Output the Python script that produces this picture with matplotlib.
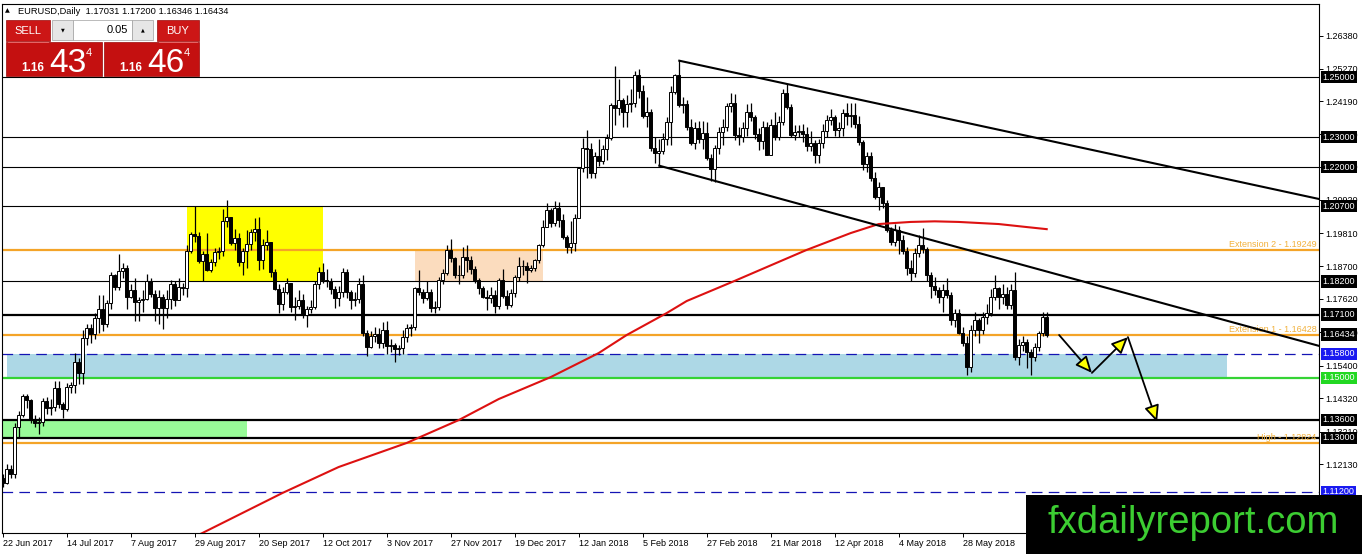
import numpy as np
import matplotlib
matplotlib.use("Agg")
import matplotlib.pyplot as plt
import matplotlib.transforms as mtransforms
from matplotlib.patches import Rectangle, FancyArrowPatch

plt.rcParams['font.family'] = ['Liberation Sans', 'DejaVu Sans']

# EURUSD daily candles, 22 Jun 2017 .. 26 Jun 2018 (one entry per trading day)
first_open = 1.1166
closes = [
    1.1150, 1.1195, 1.1180, 1.1337, 1.1377, 1.1440, 1.1425, 1.1360, 1.1348, 1.1353,
    1.1422, 1.1400, 1.1402, 1.1465, 1.1412, 1.1397, 1.1470, 1.1477, 1.1553, 1.1515,
    1.1632, 1.1664, 1.1645, 1.1700, 1.1730, 1.1677, 1.1748, 1.1842, 1.1800, 1.1855,
    1.1866, 1.1770, 1.1793, 1.1752, 1.1757, 1.1763, 1.1820, 1.1777, 1.1733, 1.1767,
    1.1733, 1.1762, 1.1810, 1.1760, 1.1800, 1.1797, 1.1922, 1.1978, 1.1970, 1.1888,
    1.1910, 1.1858, 1.1885, 1.1918, 1.1920, 1.2020, 1.2035, 1.1947, 1.1965, 1.1885,
    1.1920, 1.1945, 1.1985, 1.1996, 1.1890, 1.1940, 1.1950, 1.1850, 1.1795, 1.1745,
    1.1785, 1.1815, 1.1735, 1.1740, 1.1760, 1.1710, 1.1730, 1.1736, 1.1810, 1.1853,
    1.1825, 1.1820, 1.1795, 1.1765, 1.1785, 1.1850, 1.1785, 1.1758, 1.1762, 1.1812,
    1.1650, 1.1603, 1.1640, 1.1645, 1.1615, 1.1660, 1.1605, 1.1610, 1.1595, 1.1598,
    1.1637, 1.1665, 1.1667, 1.1797, 1.1786, 1.1765, 1.1786, 1.1731, 1.1735, 1.1825,
    1.1847, 1.1925, 1.1897, 1.1842, 1.1840, 1.1903, 1.1892, 1.1860, 1.1825, 1.1797,
    1.1770, 1.1765, 1.1775, 1.1737, 1.1825, 1.1772, 1.1742, 1.1781, 1.1836, 1.1870,
    1.1872, 1.1858, 1.1866, 1.1890, 1.1942, 1.2002, 1.2058, 1.2013, 1.2064, 1.2025,
    1.1969, 1.1936, 1.1947, 1.2030, 1.2196, 1.2263, 1.2262, 1.2180, 1.2237, 1.2222,
    1.2260, 1.2297, 1.2407, 1.2397, 1.2425, 1.2385, 1.2410, 1.2415, 1.2507, 1.2452,
    1.2370, 1.2382, 1.2263, 1.2248, 1.2255, 1.2295, 1.2350, 1.2451, 1.2507, 1.2407,
    1.2410, 1.2335, 1.2280, 1.2330, 1.2295, 1.2315, 1.2230, 1.2195, 1.2265, 1.2318,
    1.2333, 1.2402, 1.2413, 1.2307, 1.2302, 1.2330, 1.2385, 1.2368, 1.2310, 1.2288,
    1.2335, 1.2240, 1.2340, 1.2302, 1.2352, 1.2446, 1.2401, 1.2307, 1.2318, 1.2322,
    1.2312, 1.2270, 1.2280, 1.2240, 1.2280, 1.2322, 1.2357, 1.2368, 1.2325, 1.2330,
    1.2380, 1.2369, 1.2374, 1.2345, 1.2285, 1.2210, 1.2237, 1.2163, 1.2102, 1.2135,
    1.2080, 1.1990, 1.1952, 1.1990, 1.1958, 1.1922, 1.1865, 1.1848, 1.1915, 1.1940,
    1.1927, 1.1842, 1.1805, 1.1792, 1.1770, 1.1792, 1.1776, 1.1692, 1.1715, 1.1647,
    1.1614, 1.1537, 1.1659, 1.1692, 1.1659, 1.1703, 1.1714, 1.1769, 1.1797, 1.1769,
    1.1780, 1.1742, 1.1792, 1.1570, 1.1608, 1.1620, 1.1587, 1.1570, 1.1603, 1.1648,
    1.17031, 1.16434,
]
highs = [
    1.1180, 1.1212, 1.1210, 1.1350, 1.1390, 1.1446, 1.1447, 1.1430, 1.1375, 1.1370,
    1.1432, 1.1435, 1.1428, 1.1488, 1.1490, 1.1420, 1.1483, 1.1485, 1.1583, 1.1565,
    1.1660, 1.1680, 1.1680, 1.1715, 1.1775, 1.1775, 1.1760, 1.1850, 1.1845, 1.1910,
    1.1880, 1.1875, 1.1810, 1.1830, 1.1770, 1.1790, 1.1845, 1.1830, 1.1790, 1.1790,
    1.1780, 1.1790, 1.1825, 1.1820, 1.1830, 1.1815, 1.1940, 1.1985, 1.2070, 1.1985,
    1.1920, 1.1980, 1.1895, 1.1930, 1.1935, 1.2060, 1.2092, 1.2035, 1.1995, 1.1980,
    1.1930, 1.1990, 1.1995, 1.2030, 1.2035, 1.1960, 1.1990, 1.1950, 1.1860, 1.1810,
    1.1800, 1.1830, 1.1815, 1.1770, 1.1790, 1.1780, 1.1740, 1.1760, 1.1820, 1.1869,
    1.1880, 1.1860, 1.1830, 1.1805, 1.1805, 1.1865, 1.1860, 1.1790, 1.1785, 1.1830,
    1.1840, 1.1660, 1.1655, 1.1670, 1.1665, 1.1686, 1.1690, 1.1630, 1.1615, 1.1610,
    1.1660, 1.1680, 1.1680, 1.1800, 1.1858, 1.1795, 1.1820, 1.1795, 1.1755, 1.1835,
    1.1860, 1.1940, 1.1960, 1.1900, 1.1875, 1.1935, 1.1940, 1.1905, 1.1870, 1.1830,
    1.1805, 1.1790, 1.1800, 1.1790, 1.1830, 1.1860, 1.1790, 1.1795, 1.1840, 1.1900,
    1.1890, 1.1885, 1.1875, 1.1895, 1.1945, 1.2024, 1.2080, 1.2065, 1.2088, 1.2085,
    1.2045, 1.1975, 1.2020, 1.2045, 1.2200, 1.2297, 1.2323, 1.2280, 1.2250, 1.2295,
    1.2275, 1.2310, 1.2415, 1.2537, 1.2495, 1.2430, 1.2440, 1.2460, 1.2520, 1.2525,
    1.2475, 1.2435, 1.2395, 1.2300, 1.2295, 1.2315, 1.2368, 1.2470, 1.2510, 1.2555,
    1.2435, 1.2425, 1.2360, 1.2350, 1.2355, 1.2355, 1.2350, 1.2245, 1.2275, 1.2335,
    1.2360, 1.2415, 1.2446, 1.2445, 1.2335, 1.2350, 1.2410, 1.2415, 1.2375, 1.2330,
    1.2355, 1.2350, 1.2360, 1.2385, 1.2370, 1.2460, 1.2476, 1.2410, 1.2340, 1.2340,
    1.2345, 1.2335, 1.2320, 1.2290, 1.2295, 1.2345, 1.2375, 1.2395, 1.2375, 1.2350,
    1.2395, 1.2412, 1.2415, 1.2415, 1.2370, 1.2290, 1.2250, 1.2250, 1.2185, 1.2150,
    1.2135, 1.2090, 1.2000, 1.2010, 1.2005, 1.1975, 1.1935, 1.1890, 1.1930, 1.1975,
    1.1997, 1.1935, 1.1850, 1.1835, 1.1800, 1.1810, 1.1830, 1.1785, 1.1730, 1.1730,
    1.1670, 1.1640, 1.1675, 1.1720, 1.1700, 1.1720, 1.1745, 1.1795, 1.1840, 1.1800,
    1.1810, 1.1800, 1.1810, 1.1852, 1.1630, 1.1640, 1.1630, 1.1595, 1.1615, 1.1655,
    1.1720, 1.17200,
]
lows = [
    1.1137, 1.1145, 1.1165, 1.1165, 1.1300, 1.1370, 1.1400, 1.1350, 1.1335, 1.1312,
    1.1340, 1.1380, 1.1375, 1.1390, 1.1400, 1.1365, 1.1390, 1.1450, 1.1450, 1.1478,
    1.1480, 1.1610, 1.1615, 1.1630, 1.1650, 1.1655, 1.1670, 1.1730, 1.1790, 1.1790,
    1.1830, 1.1730, 1.1765, 1.1690, 1.1690, 1.1720, 1.1760, 1.1770, 1.1690, 1.1680,
    1.1661, 1.1700, 1.1730, 1.1740, 1.1760, 1.1775, 1.1770, 1.1915, 1.1950, 1.1880,
    1.1823, 1.1855, 1.1850, 1.1870, 1.1895, 1.1905, 1.2000, 1.1940, 1.1925, 1.1870,
    1.1840, 1.1865, 1.1925, 1.1955, 1.1858, 1.1860, 1.1925, 1.1835, 1.1790, 1.1714,
    1.1725, 1.1780, 1.1720, 1.1692, 1.1730, 1.1700, 1.1670, 1.1715, 1.1730, 1.1795,
    1.1815, 1.1800, 1.1780, 1.1731, 1.1740, 1.1770, 1.1765, 1.1730, 1.1740, 1.1750,
    1.1640, 1.1572, 1.1600, 1.1620, 1.1600, 1.1600, 1.1580, 1.1585, 1.1552, 1.1575,
    1.1580, 1.1620, 1.1640, 1.1660, 1.1775, 1.1750, 1.1760, 1.1720, 1.1714, 1.1725,
    1.1810, 1.1840, 1.1885, 1.1830, 1.1810, 1.1830, 1.1850, 1.1845, 1.1815, 1.1780,
    1.1765, 1.1725, 1.1750, 1.1716, 1.1730, 1.1765, 1.1730, 1.1735, 1.1770, 1.1820,
    1.1840, 1.1814, 1.1850, 1.1855, 1.1880, 1.1935, 1.2000, 1.2000, 1.2005, 1.2000,
    1.1960, 1.1915, 1.1915, 1.1920, 1.2030, 1.2185, 1.2165, 1.2165, 1.2165, 1.2205,
    1.2210, 1.2225, 1.2290, 1.2340, 1.2375, 1.2335, 1.2335, 1.2385, 1.2400, 1.2430,
    1.2365, 1.2335, 1.2255, 1.2215, 1.2205, 1.2245, 1.2275, 1.2275, 1.2445, 1.2400,
    1.2380, 1.2325, 1.2275, 1.2260, 1.2280, 1.2260, 1.2225, 1.2155, 1.2152, 1.2245,
    1.2275, 1.2320, 1.2385, 1.2290, 1.2275, 1.2285, 1.2305, 1.2355, 1.2295, 1.2257,
    1.2260, 1.2240, 1.2240, 1.2290, 1.2290, 1.2340, 1.2395, 1.2300, 1.2290, 1.2300,
    1.2285, 1.2255, 1.2255, 1.2215, 1.2215, 1.2265, 1.2300, 1.2340, 1.2305, 1.2300,
    1.2305, 1.2340, 1.2335, 1.2330, 1.2275, 1.2190, 1.2185, 1.2155, 1.2095, 1.2058,
    1.2065, 1.1985, 1.1940, 1.1938, 1.1910, 1.1910, 1.1840, 1.1822, 1.1835, 1.1900,
    1.1915, 1.1820, 1.1764, 1.1775, 1.1750, 1.1717, 1.1765, 1.1675, 1.1670, 1.1645,
    1.1605, 1.1510, 1.1520, 1.1640, 1.1614, 1.1645, 1.1680, 1.1705, 1.1760, 1.1730,
    1.1745, 1.1730, 1.1730, 1.1560, 1.1542, 1.1590, 1.1531, 1.1508, 1.1555, 1.1590,
    1.1640, 1.16346,
]

date_labels = ["22 Jun 2017", "14 Jul 2017", "7 Aug 2017", "29 Aug 2017", "20 Sep 2017",
               "12 Oct 2017", "3 Nov 2017", "27 Nov 2017", "19 Dec 2017", "12 Jan 2018",
               "5 Feb 2018", "27 Feb 2018", "21 Mar 2018", "12 Apr 2018", "4 May 2018",
               "28 May 2018"]

# moving average
ma_bars = [47, 50, 70, 84, 101, 114, 124, 137, 149, 156, 166, 171, 183, 194, 201,
           212, 219, 227, 233, 239, 249, 256, 261]
ma_vals = [1.0965, 1.0984, 1.1117, 1.1203, 1.1283, 1.1359, 1.1429, 1.1502, 1.1582,
           1.1642, 1.1715, 1.1755, 1.1822, 1.1885, 1.1925, 1.1981, 1.2011, 1.2018,
           1.2020, 1.2018, 1.2011, 1.2001, 1.1994]

# horizontal levels
thin_levels = [1.25, 1.23, 1.22, 1.207, 1.182]
thick_levels = [1.171, 1.136, 1.13]
fib_levels = [1.19249, 1.16428, 1.12824]
fib_names = ["Extension 2", "Extension 1", "High"]
support_green = 1.15
dashed_levels = [1.158, 1.112]

# zones: (bar start, bar end, price low, price high, colour)
zone_x0 = [1.0, 46.0, 103.0, 0.0]
zone_x1 = [306.0, 80.0, 135.0, 61.0]
zone_lo = [1.150, 1.182, 1.1823, 1.130]
zone_hi = [1.158, 1.207, 1.1925, 1.136]
zone_col = ['#add8e6', '#ffff00', '#fbdcbe', '#98fb98']

# trend lines (two anchors each, extended to the right edge)
trend_a = [(169.15, 1.25542), (164.15, 1.22050)]
trend_b = [(329.08, 1.20943), (329.08, 1.16058)]

# projected path
path_bars = [264.1, 272.3, 281.3, 288.6]
path_vals = [1.1642, 1.1516, 1.1635, 1.1353]

right_ticks = [1.26380, 1.25270, 1.24190, 1.23100, 1.22010, 1.20920, 1.19810,
               1.18700, 1.17620, 1.16510, 1.15400, 1.14320, 1.13210, 1.12130]
boxed = [1.25, 1.23, 1.22, 1.207, 1.182, 1.171, 1.16434, 1.158, 1.15, 1.136, 1.13, 1.112]
boxed_col = ['black'] * 7 + ['#1a1af0', '#22d822', 'black', 'black', '#1a1af0']

ORANGE = '#f4a428'

fig = plt.figure(figsize=(13.62, 5.54), dpi=100)
ax = fig.add_axes([2 / 1362, 21 / 554, 1317 / 1362, 529 / 554])
ax.set_xlim(-0.175, 329.075)
ax.set_ylim(1.098354, 1.274277)

for x0, x1, lo, hi, col in zip(zone_x0, zone_x1, zone_lo, zone_hi, zone_col):
    ax.add_patch(Rectangle((x0, lo), x1 - x0, hi - lo, facecolor=col, edgecolor='none', zorder=0.5))

for lv in thin_levels:
    ax.axhline(lv, color='black', lw=0.8, zorder=1)
for lv in thick_levels:
    ax.axhline(lv, color='black', lw=1.6, zorder=1)
for lv in fib_levels:
    ax.axhline(lv, color=ORANGE, lw=1.6, zorder=1)
ax.axhline(support_green, color='#35d335', lw=1.6, zorder=1)
for lv in dashed_levels:
    ax.axhline(lv, color='#1414b4', lw=0.9, ls=(0, (8.5, 5)), zorder=1)

for name, lv in zip(fib_names, fib_levels):
    ax.text(328.4, lv + 0.0004, f"{name} - {lv:.5f}", color='#f2b13c', fontsize=6.5,
            ha='right', va='bottom', zorder=2)

# candles
c = np.array(closes)
o = np.array([first_open] + closes[:-1])
h = np.array(highs)
l = np.array(lows)
idx = np.arange(len(c))
up = c >= o
ax.vlines(idx, l, h, color='black', lw=0.9, zorder=3)
body = np.maximum(np.abs(c - o), 0.00012)
ax.bar(idx, body, bottom=np.minimum(o, c), width=0.62,
       color=np.where(up, 'white', 'black'), edgecolor='black', linewidth=0.7, zorder=4)

ax.plot(ma_bars, ma_vals, color='#dd1111', lw=1.5, zorder=5)

for (xa, ya), (xb, yb) in zip(trend_a, trend_b):
    ax.plot([xa, xb], [ya, yb], color='black', lw=1.5, zorder=6)

for i in range(len(path_bars) - 1):
    arr = FancyArrowPatch((path_bars[i], path_vals[i]), (path_bars[i + 1], path_vals[i + 1]),
                          arrowstyle='-|>,head_length=10,head_width=4.5', mutation_scale=1,
                          facecolor='#ffff00', edgecolor='black', lw=1.3,
                          shrinkA=0, shrinkB=0, zorder=7)
    ax.add_patch(arr)

# axes styling
for sp in ax.spines.values():
    sp.set_color('black')
    sp.set_linewidth(0.8)
ax.set_xticks(range(0, 16 * len(date_labels), 16))
ax.set_xticklabels(date_labels, fontsize=6.5)
for t in ax.get_xticklabels():
    t.set_ha('left')
ax.tick_params(axis='x', direction='out', length=3, width=0.7, pad=1.5)
ax.yaxis.tick_right()
ax.set_yticks(right_ticks)
ax.set_yticklabels([f"{v:.5f}" for v in right_ticks], fontsize=6.5)
ax.tick_params(axis='y', direction='out', length=3, width=0.7, pad=1.5)

trans = mtransforms.blended_transform_factory(ax.transAxes, ax.transData)
for lv, col in zip(boxed, boxed_col):
    ax.text(1.0027, lv, f"{lv:.5f}", transform=trans, fontsize=6.5, color='white',
            ha='left', va='center', clip_on=False, zorder=10,
            bbox=dict(boxstyle='square,pad=0.18', facecolor=col, edgecolor='none'))

# overlay in pixel coordinates for the trade panel and watermark
ov = fig.add_axes([0, 0, 1, 1])
ov.set_xlim(0, 1362)
ov.set_ylim(554, 0)
ov.axis('off')

ov.text(5, 11, "\u25b2", fontsize=4.5, va='center', ha='left', family=['DejaVu Sans'])
ov.text(18, 11, "EURUSD,Daily  1.17031 1.17200 1.16346 1.16434", fontsize=6.7, va='center', ha='left')

RED = '#cc1616'
for x0, w in [(6, 44), (157, 42)]:
    ov.add_patch(Rectangle((x0, 20), w, 21, facecolor=RED, edgecolor='#9a0a0a', lw=0.5))
for x0, w in [(6, 96), (104, 95)]:
    ov.add_patch(Rectangle((x0, 42), w, 34, facecolor='#c41010', edgecolor='#9a0a0a', lw=0.5))
ov.plot([8, 48], [41.5, 41.5], color='#f07070', lw=0.6)
ov.plot([159, 197], [41.5, 41.5], color='#f07070', lw=0.6)
ov.text(28, 31, "SELL", color='white', fontsize=8, ha='center', va='center')
ov.text(178, 31, "BUY", color='white', fontsize=8, ha='center', va='center')

ov.add_patch(Rectangle((52, 20), 21, 20, facecolor='#e6e6e6', edgecolor='#a0a0a0', lw=0.5))
ov.add_patch(Rectangle((73, 20), 59, 20, facecolor='white', edgecolor='#a0a0a0', lw=0.5))
ov.add_patch(Rectangle((132, 20), 21, 20, facecolor='#e6e6e6', edgecolor='#a0a0a0', lw=0.5))
ov.text(62.5, 30, "\u25bc", fontsize=3.5, ha='center', va='center', family=['DejaVu Sans'])
ov.text(142.5, 30, "\u25b2", fontsize=3.5, ha='center', va='center', family=['DejaVu Sans'])
ov.text(128, 30, "0.05", fontsize=8, ha='right', va='center')

for xs, big, xb, xsup in [(21, "43", 49, 86), (119, "46", 147, 184)]:
    ov.text(xs, 71, "1.16", color='white', fontsize=8.5, fontweight='bold', ha='left', va='baseline')
    ov.text(xb, 71.5, big, color='white', fontsize=24, ha='left', va='baseline')
    ov.text(xsup, 53, "4", color='white', fontsize=8, ha='left', va='center')

ov.add_patch(Rectangle((1026, 495), 336, 59, facecolor='black', edgecolor='none'))
ov.text(1193, 533, "fxdailyreport.com", color='#3ccd32', fontsize=27.5, ha='center', va='baseline')

fig.savefig("out.png", dpi=100)
